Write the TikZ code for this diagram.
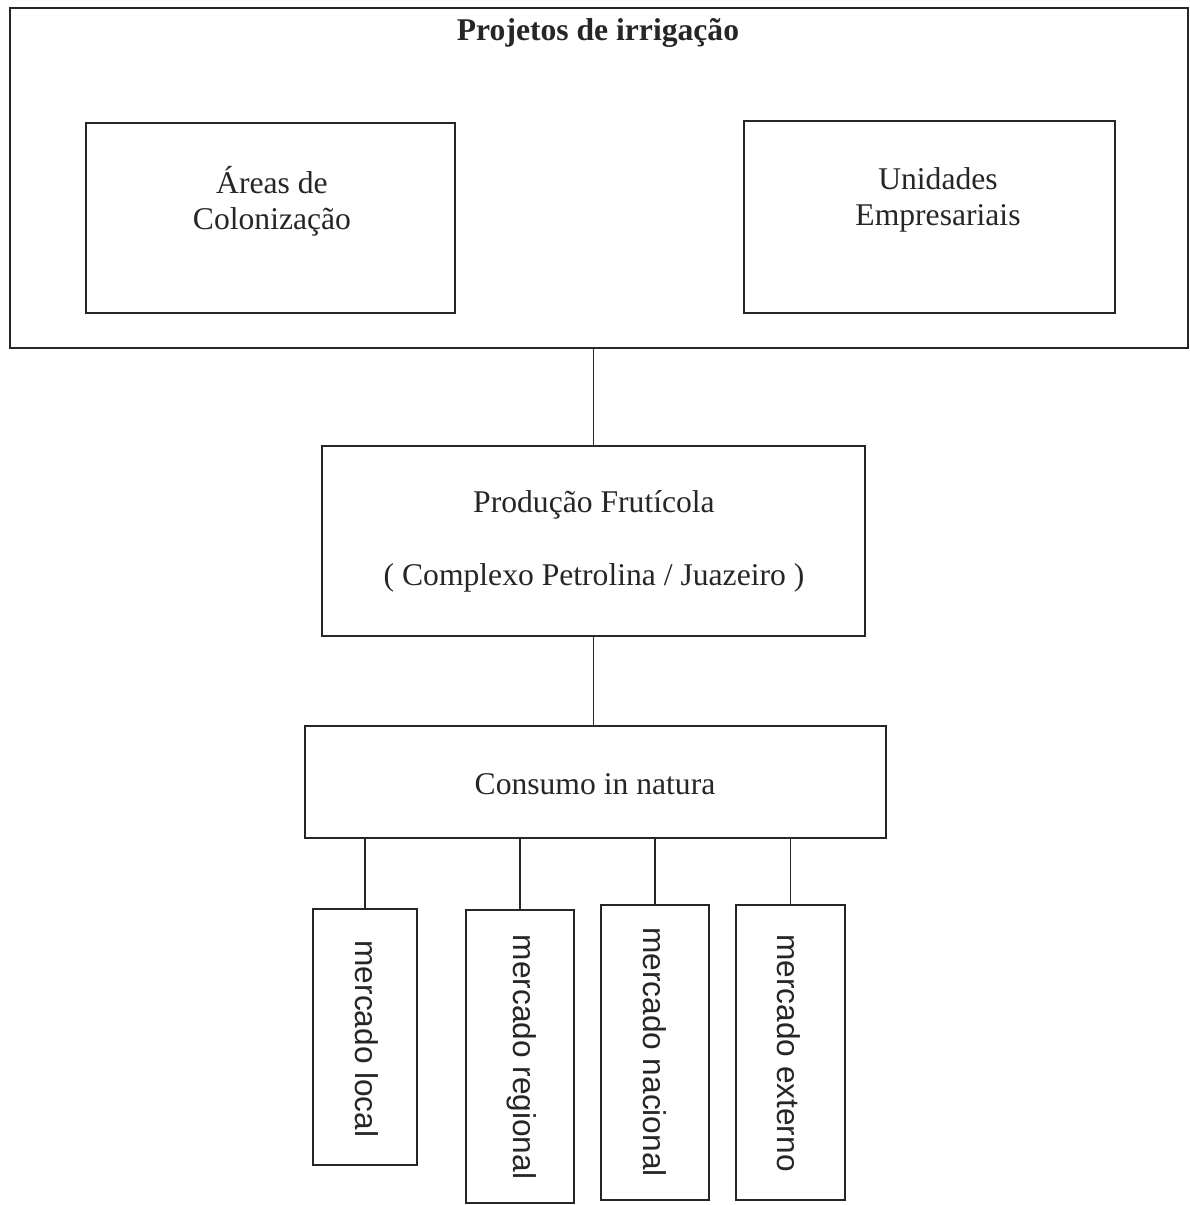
\documentclass[tikz,border=0pt]{standalone}
\usepackage{fontspec}
\setmainfont{Liberation Serif}
\newfontfamily\arialf{Liberation Sans}
\begin{document}
\begin{tikzpicture}[x=0.02cm,y=-0.02cm,
  box/.style={draw=black!85, line width=1pt, inner sep=0pt},
  lbl/.style={text=black!85, font=\fontsize{18}{20}\selectfont, inner sep=0pt},
  vlbl/.style={text=black!85, font=\arialf\fontsize{18}{20}\selectfont, inner sep=0pt, rotate=-90},
  link/.style={draw=black!85, line width=1.1pt}]
\useasboundingbox (0,0) rectangle (1190,1205);
\fill[white] (0,0) rectangle (1190,1205);
% top box
\node[box, minimum width=23.56cm, minimum height=6.8cm] (outer) at (599,178) {};
\node[lbl, font=\bfseries\fontsize{18}{20}\selectfont] (title) at (598,33) {Projetos de irrigação};
\node[box, minimum width=7.38cm, minimum height=3.8cm] (areas) at (270.5,218) {};
\node[lbl, align=center, font=\fontsize{18}{20.5}\selectfont] (areast) at (272,201) {Áreas de\\Colonização};
\node[box, minimum width=7.42cm, minimum height=3.84cm] (unid) at (929.5,217) {};
\node[lbl, align=center, font=\fontsize{18}{20.5}\selectfont] (unidt) at (938,200) {Unidades\\Empresariais};
% producao
\node[box, minimum width=10.86cm, minimum height=3.8cm] (prod) at (593.5,541) {};
\node[lbl] (prodt1) at (594,505) {Produção Frutícola};
\node[lbl] (prodt2) at (594,578) {( Complexo Petrolina / Juazeiro )};
% consumo
\node[box, minimum width=11.62cm, minimum height=2.24cm] (cons) at (595.5,782) {};
\node[lbl] (const) at (595,784) {Consumo in natura};
% mercados
\node[box, minimum width=2.08cm, minimum height=5.12cm] (mloc) at (365,1037) {};
\node[vlbl] (mloct) at (367,1039) {mercado local};
\node[box, minimum width=2.16cm, minimum height=5.86cm] (mreg) at (520,1056.5) {};
\node[vlbl] (mregt) at (522,1057) {mercado regional};
\node[box, minimum width=2.16cm, minimum height=5.9cm] (mnac) at (655,1052.5) {};
\node[vlbl] (mnact) at (655,1052) {mercado nacional};
\node[box, minimum width=2.18cm, minimum height=5.9cm] (mext) at (790.5,1052.5) {};
\node[vlbl] (mextt) at (789,1053) {mercado externo};
% connectors
\draw[link] (prod.north) -- (prod.north |- outer.south);
\draw[link] (prod.south) -- (prod.south |- cons.north);
\draw[link] (mloc.north) -- (mloc.north |- cons.south);
\draw[link] (mreg.north) -- (mreg.north |- cons.south);
\draw[link] (mnac.north) -- (mnac.north |- cons.south);
\draw[link] (mext.north) -- (mext.north |- cons.south);
\end{tikzpicture}
\end{document}
